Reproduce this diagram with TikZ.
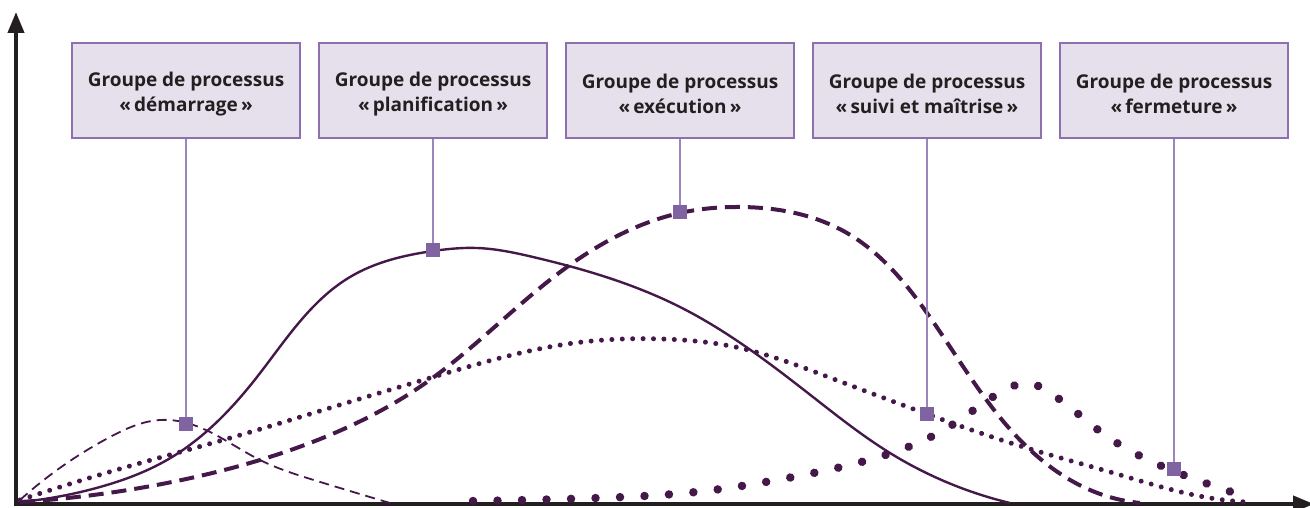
\documentclass[tikz,border=0pt]{standalone}
\usepackage{fontspec}
\setmainfont{Open Sans}
\usetikzlibrary{arrows.meta,hobby}
\definecolor{axisc}{HTML}{231F20}
\definecolor{curvec}{HTML}{45184A}
\definecolor{markc}{HTML}{8064A2}
\definecolor{linkc}{HTML}{9A85BC}
\definecolor{boxfill}{HTML}{E6E0EC}
\definecolor{boxline}{HTML}{8E70AE}
% first-line strut that lowers the two-line label inside its box
\newcommand{\topstrut}{\rule{0pt}{21pt}}
\begin{document}
\begin{tikzpicture}[x=1pt,y=-1pt,
  axis/.style={draw=axisc,line width=4pt,-{Triangle[length=21pt,width=16pt]}},
  groupbox/.style={draw=boxline,fill=boxfill,line width=1.4pt,minimum width=228pt,
    minimum height=95pt,inner sep=0pt,align=center,text=axisc,
    font=\bfseries\fontsize{19}{25}\selectfont},
  marker/.style={fill=markc,minimum size=14pt,inner sep=0pt,outer sep=0pt},
  link/.style={draw=linkc,line width=1.3pt},
  curve/.style={draw=curvec,use Hobby shortcut},
  startcurve/.style={curve,line width=1.8pt,dash pattern=on 10pt off 6pt},
  plancurve/.style={curve,line width=2.4pt},
  execcurve/.style={curve,line width=4pt,dash pattern=on 15pt off 8pt},
  ctrlcurve/.style={curve,line width=5pt,line cap=round,dash pattern=on 0.01pt off 10.4pt},
  closecurve/.style={curve,line width=8.5pt,line cap=round,dash pattern=on 0.01pt off 24.5pt}]
\useasboundingbox (0,0) rectangle (1310,508);

% axes
\draw[axis] (16,506) -- (16,12);
\draw[axis] (14,504) -- (1314,504);

% process group curves
\draw[startcurve] (20,500) .. (67,463) .. (110,437) .. (160,420) .. (187,423)
  .. (260,460) .. (317,481) .. (390,503);
\draw[plancurve] (20,502) .. (100,487) .. (167,460) .. (257,377) .. (350,277)
  .. (433,251) .. (477,248) .. (533,257) .. (680,307) .. (813,397) .. (890,453)
  .. (1010,503);
\draw[execcurve] (20,502) .. (167,483) .. (260,460) .. (427,382) .. (567,267)
  .. (680,213) .. (740,207) .. (847,233) .. (927,313) .. (1020,440) .. (1090,490)
  .. (1140,503);
\draw[ctrlcurve] (20,500) .. (123,468) .. (230,438) .. (333,407) .. (440,375)
  .. (567,344) .. (663,339) .. (740,348) .. (823,375) .. (927,414) .. (1017,445)
  .. (1117,474) .. (1210,498) .. (1247,502);
\draw[closecurve] (473,501) .. (597,498) .. (696,492) .. (793,477) .. (865,461)
  .. (952,425) .. (1011,387) .. (1028,383) .. (1044,389) .. (1105,435)
  .. (1197,480) .. (1247,497);

% group boxes
\node[groupbox] (b1) at (186,90.5) {\topstrut Groupe de processus\\«\,démarrage\,»};
\node[groupbox] (b2) at (433,90.5) {\topstrut Groupe de processus\\«\,planification\,»};
\node[groupbox] (b3) at (680,90.5) {\topstrut Groupe de processus\\«\,exécution\,»};
\node[groupbox] (b4) at (927,90.5) {\topstrut Groupe de processus\\«\,suivi et maîtrise\,»};
\node[groupbox] (b5) at (1174,90.5) {\topstrut Groupe de processus\\«\,fermeture\,»};

% markers on the curves
\node[marker] (m1) at (186,424) {};
\node[marker] (m2) at (433,250) {};
\node[marker] (m3) at (680,212) {};
\node[marker] (m4) at (927,414) {};
\node[marker] (m5) at (1174,469) {};

% links from boxes to markers
\foreach \i in {1,...,5} \draw[link] (b\i.south) -- (m\i.north);
\end{tikzpicture}
\end{document}
